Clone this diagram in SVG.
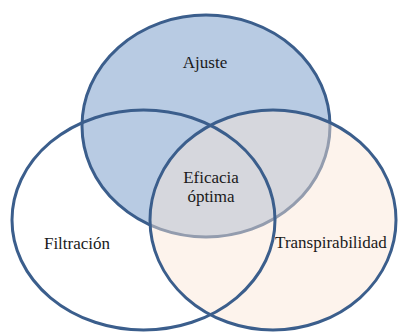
<svg xmlns="http://www.w3.org/2000/svg" width="398" height="332" viewBox="0 0 398 332">
<style>
.ring{stroke:#3b5e8c;stroke-width:3}
.lbl{font-family:"Liberation Serif","Times New Roman",serif;font-size:17px;fill:#1a1a1a;text-anchor:middle}
</style>
<rect width="398" height="332" fill="#ffffff"/>
<g id="ajuste">
<ellipse class="ring" cx="206" cy="126" rx="124" ry="111" fill="#b8cbe3"/>
<text class="lbl" x="205" y="68">Ajuste</text>
</g>
<g id="transpirabilidad">
<ellipse class="ring" cx="273" cy="220" rx="123" ry="110" fill="#fbe5d6" fill-opacity="0.46"/>
<text class="lbl" x="331" y="248">Transpirabilidad</text>
</g>
<g id="filtracion">
<ellipse class="ring" cx="143.5" cy="220" rx="131.5" ry="110" fill="none"/>
<text class="lbl" x="77" y="249">Filtración</text>
</g>
<g id="eficacia">
<text class="lbl" x="211" y="183">Eficacia</text>
<text class="lbl" x="211" y="202">óptima</text>
</g>
<g id="connectors"></g>
</svg>
